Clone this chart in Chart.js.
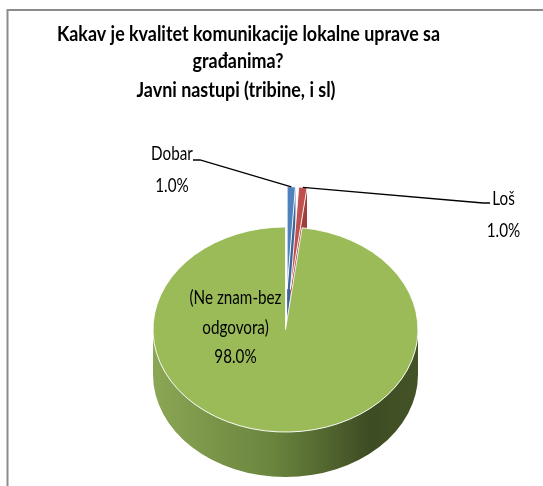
<!DOCTYPE html>
<html lang="sr">
<head>
<meta charset="UTF-8">
<title>Javni nastupi</title>
<script src="https://cdn.jsdelivr.net/npm/chart.js"></script>
<style>
  body { margin: 0; background: #fff; }
  canvas { display: block; }
</style>
</head>
<body>
<canvas id="pieChart" width="543" height="486"></canvas>
<script>
const titleLines = ['Kakav je kvalitet komunikacije lokalne uprave sa', 'građanima?', 'Javni nastupi (tribine, i sl)'];
const categories = ['Dobar', 'Loš', '(Ne znam-bez odgovora)'];
const values = [1, 1, 98];
const sliceColors = ['#4f81bd', '#c0504d', '#9bbb59'];
const faceColors = ['#3d6596', '#9e3f3c', '#6a853e'];
const explode = [52, 52, 0];

const FONT = "Lato, 'Noto Sans', sans-serif";
const PIE_CX = 285.5, PIE_CY = 329.5, TILT = 0.774, DEPTH = 45;

// the reference text is squeezed sideways, so text is drawn narrowed
const TITLE_WIDTH = 383;     // width of the first title line
const LABEL_REF_WIDTH = 92;  // width of "(Ne znam-bez"
const titleSpots = [[248.5, 41], [238, 68], [236, 97]];

// label centre x, first baseline, line gap, and elbow of the leader line
const labelSpots = [
  {x: 172, y: 160, gap: 32, elbow: [[193, 160], [200, 160]]},
  {x: 503.5, y: 205, gap: 32, elbow: [[490, 203], [483, 203]]},
  {x: 235.5, y: 304, gap: 29.5, elbow: null}
];

// centre of an arc after tilt + explosion, in screen coordinates
function arcCentre(arc, i) {
  const mid = (arc.startAngle + arc.endAngle) / 2;
  return {
    x: PIE_CX + explode[i] * Math.cos(mid),
    y: PIE_CY + TILT * explode[i] * Math.sin(mid)
  };
}

function narrowText(ctx, text, x, y, sx) {
  ctx.save();
  ctx.translate(x, y);
  ctx.scale(sx, 1);
  ctx.fillText(text, 0, 0);
  ctx.restore();
}

const pie3d = {
  id: 'pie3d',
  beforeDraw(chart) {
    const ctx = chart.ctx;
    ctx.save();
    ctx.strokeStyle = '#8c8c8c';
    ctx.lineWidth = 2;
    ctx.beginPath();
    ctx.moveTo(7.5, 486);
    ctx.lineTo(7.5, 10);
    ctx.lineTo(543, 10);
    ctx.stroke();
    ctx.restore();
  },
  beforeDatasetDraw(chart, args) {
    const ctx = chart.ctx;
    const arcs = chart.getDatasetMeta(args.index).data;

    // radial cut faces of the slices (only the ones turned to the viewer)
    arcs.forEach((arc, i) => {
      const c = arcCentre(arc, i);
      const r = arc.outerRadius;
      const faces = [];
      if (-Math.cos(arc.startAngle) > 0.01) faces.push(arc.startAngle);
      if (Math.cos(arc.endAngle) > 0.01) faces.push(arc.endAngle);
      faces.forEach(a => {
        const px = c.x + r * Math.cos(a), py = c.y + TILT * r * Math.sin(a);
        ctx.beginPath();
        ctx.moveTo(c.x, c.y);
        ctx.lineTo(px, py);
        ctx.lineTo(px, py + DEPTH);
        ctx.lineTo(c.x, c.y + DEPTH);
        ctx.closePath();
        ctx.fillStyle = faceColors[i];
        ctx.fill();
      });
    });

    // outer walls on the front half
    arcs.forEach((arc, i) => {
      const c = arcCentre(arc, i);
      const r = arc.outerRadius;
      for (let k = -1; k <= 1; k++) {
        const lo = Math.max(arc.startAngle, 2 * Math.PI * k);
        const hi = Math.min(arc.endAngle, 2 * Math.PI * k + Math.PI);
        if (hi <= lo) continue;
        ctx.beginPath();
        ctx.ellipse(c.x, c.y, r, r * TILT, 0, lo, hi);
        ctx.ellipse(c.x, c.y + DEPTH, r, r * TILT, 0, hi, lo, true);
        ctx.closePath();
        const g = ctx.createLinearGradient(c.x - r, 0, c.x + r, 0);
        if (i === 2) {
          g.addColorStop(0, '#8ba654');
          g.addColorStop(0.45, '#6a853e');
          g.addColorStop(0.82, '#3e4c23');
          g.addColorStop(1, '#445327');
        } else {
          g.addColorStop(0, faceColors[i]);
          g.addColorStop(1, faceColors[i]);
        }
        ctx.fillStyle = g;
        ctx.fill();
      }
    });

    // tops: the library's own arcs, squashed and pulled out
    arcs.forEach((arc, i) => {
      const mid = (arc.startAngle + arc.endAngle) / 2;
      ctx.save();
      ctx.translate(PIE_CX, PIE_CY);
      ctx.scale(1, TILT);
      ctx.translate(-arc.x, -arc.y);
      ctx.translate(explode[i] * Math.cos(mid), explode[i] * Math.sin(mid));
      arc.draw(ctx);
      ctx.restore();
    });
    return false;
  },
  afterDraw(chart) {
    const ctx = chart.ctx;
    const arcs = chart.getDatasetMeta(0).data;
    const total = values.reduce((a, b) => a + b, 0);
    ctx.save();
    ctx.fillStyle = '#000';
    ctx.textAlign = 'center';
    ctx.textBaseline = 'alphabetic';

    // title
    ctx.font = 'bold 21px ' + FONT;
    const tsx = TITLE_WIDTH / ctx.measureText(titleLines[0]).width;
    titleLines.forEach((t, j) => narrowText(ctx, t, titleSpots[j][0], titleSpots[j][1], tsx));

    // data labels
    ctx.font = '19px ' + FONT;
    const lsx = LABEL_REF_WIDTH / ctx.measureText('(Ne znam-bez').width;
    arcs.forEach((arc, i) => {
      const spot = labelSpots[i];
      if (spot.elbow) {
        const c = arcCentre(arc, i);
        const mid = (arc.startAngle + arc.endAngle) / 2;
        const r = arc.outerRadius;
        ctx.beginPath();
        ctx.moveTo(spot.elbow[0][0], spot.elbow[0][1]);
        ctx.lineTo(spot.elbow[1][0], spot.elbow[1][1]);
        ctx.lineTo(c.x + r * Math.cos(mid), c.y + TILT * r * Math.sin(mid));
        ctx.strokeStyle = '#000';
        ctx.lineWidth = 1.3;
        ctx.stroke();
      }
      const lines = wrap(ctx, categories[i], 105 / lsx);
      lines.push((values[i] / total * 100).toFixed(1) + '%');
      lines.forEach((t, j) => narrowText(ctx, t, spot.x, spot.y + j * spot.gap, lsx));
    });
    ctx.restore();
  }
};

function wrap(ctx, text, maxWidth) {
  const words = text.split(' ');
  const out = [];
  let line = '';
  words.forEach(w => {
    const test = line ? line + ' ' + w : w;
    if (line && ctx.measureText(test).width > maxWidth) {
      out.push(line);
      line = w;
    } else {
      line = test;
    }
  });
  out.push(line);
  return out;
}

new Chart(document.getElementById('pieChart'), {
  type: 'pie',
  data: {
    labels: categories,
    datasets: [{
      data: values,
      backgroundColor: sliceColors,
      borderColor: '#fff',
      borderWidth: 1,
      clip: false
    }]
  },
  options: {
    responsive: false,
    animation: false,
    radius: 132.5,
    plugins: {
      legend: { display: false },
      tooltip: { enabled: false },
      title: { display: false }
    }
  },
  plugins: [pie3d]
});
</script>
</body>
</html>
